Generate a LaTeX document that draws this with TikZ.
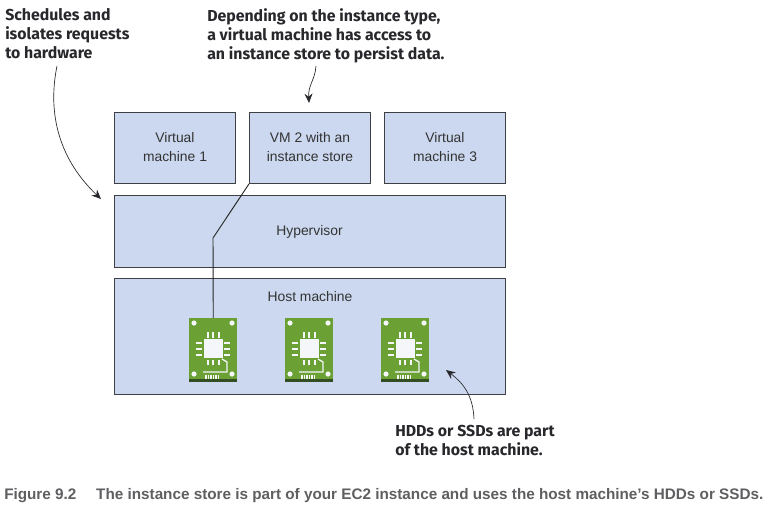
\documentclass[tikz,border=0pt]{standalone}
\usepackage{fontspec}
\setmainfont{Liberation Sans}
\newfontfamily\notefont{Fira Sans}
\usepackage{tikz}
\usetikzlibrary{positioning,calc,arrows.meta}
\definecolor{boxblue}{RGB}{203,216,239}
\definecolor{boxedge}{RGB}{62,64,68}
\definecolor{chipgreen}{RGB}{106,160,52}
\definecolor{chipdark}{RGB}{52,78,36}
\definecolor{chipwhite}{RGB}{244,246,250}
\definecolor{notecolor}{RGB}{40,40,44}
\definecolor{capcolor}{RGB}{95,95,98}
\tikzset{
  hostbox/.style={draw=boxedge,fill=boxblue,line width=0.9pt,anchor=north west,inner sep=0pt},
  boxtext/.style={font=\fontsize{10.4}{14.2}\selectfont,align=center,text=black!80},
  notetext/.style={font=\notefont\bfseries\fontsize{11.9}{14.25}\selectfont,align=left,anchor=north west,inner sep=0pt,text=notecolor},
  notearrow/.style={-{Stealth[length=7pt,width=6pt]},line width=0.5pt,notecolor},
  chipbody/.style={fill=chipgreen,draw=none,anchor=north west,minimum width=36pt,minimum height=48pt,inner sep=0pt},
  pin/.style={draw=chipwhite,line width=1pt},
}
% one circuit board, x and y are the centre of its top edge
\newcommand{\chipdetail}[1]{
  \begin{scope}[shift={(#1)}]
    \fill[chipdark] (-24,61) rectangle (24,64);
    \fill[chipwhite] (-9,21) rectangle (10,40);
    \foreach \sx in {-19,19} \foreach \sy in {5,56}
      \fill[chipwhite] ({\sx},{\sy}) circle [radius=2.6];
    \foreach \dx in {-5,0,6} {
      \draw[pin] (\dx,14) -- (\dx,20);
      \draw[pin] (\dx,42) -- (\dx,47);
    }
    \foreach \dy in {25,31,37} {
      \draw[pin] (-17,\dy) -- (-11,\dy);
      \draw[pin] (11,\dy) -- (17,\dy);
    }
    \foreach \dx in {-7,-4.5,-2,0.5,3,5.5}
      \draw[pin] (\dx,57) -- (\dx,61);
    \draw[pin] (-10,54) -- (14,54) -- (14,44) -- (9,41);
  \end{scope}
}
\begin{document}
\begin{tikzpicture}[x=0.75pt,y=-0.75pt]
  \useasboundingbox (0,0) rectangle (773,511);
  \fill[white] (0,0) rectangle (773,511);

  \node[hostbox,minimum width=90.5pt,minimum height=53pt] (vmone) at (114,112) {};
  \node[hostbox,minimum width=90.5pt,minimum height=53pt] (vmtwo) at (249,112) {};
  \node[hostbox,minimum width=90.5pt,minimum height=53pt] (vmthree) at (384,112) {};
  \node[hostbox,minimum width=293pt,minimum height=54pt] (hyper) at (114,195) {};
  \node[hostbox,minimum width=293pt,minimum height=87pt] (host) at (114,278) {};

  \node[boxtext] (vmonetext) at (175,147.5) {Virtual\\machine 1};
  \node[boxtext] (vmtwotext) at (310,147.5) {VM 2 with an\\instance store};
  \node[boxtext] (vmthreetext) at (445,147.5) {Virtual\\machine 3};
  \node[boxtext] (hypertext) at (309.5,232) {Hypervisor};
  \node[boxtext] (hosttext) at (310,297) {Host machine};

  \node[chipbody] (chipa) at (189,318) {};
  \node[chipbody] (chipb) at (285,318) {};
  \node[chipbody] (chipc) at (381,318) {};
  \chipdetail{213,318}
  \chipdetail{309,318}
  \chipdetail{405,318}

  \coordinate (bend) at (213,238);
  \draw[line width=0.7pt,black!85] (vmtwo.south west) -- (bend) -- (chipa.north);

  \node[notetext] (notehyper) at (5,8.5) {Schedules and\\isolates requests\\to hardware};
  \node[notetext] (notevm) at (207,8.5) {Depending on the instance type,\\a virtual machine has access to\\an instance store to persist data.};
  \node[notetext] (notehost) at (395,425) {HDDs or SSDs are part\\of the host machine.};

  \coordinate (hyperend) at (101,199);
  \coordinate (vmend) at (309,103);
  \coordinate (hostend) at (446,370);
  \draw[notearrow] (57,66) .. controls (47,115) and (60,160) .. (hyperend);
  \draw[notearrow] (316,66) .. controls (315,80) and (308,85) .. (vmend);
  \draw[notearrow] (474,419) .. controls (473,395) and (463,383) .. (hostend);

  \node[font=\bfseries\fontsize{11.45}{12}\selectfont,anchor=west,inner sep=0pt,text=capcolor] (caption) at (4,496) {Figure 9.2\hspace{1.3em}The instance store is part of your EC2 instance and uses the host machine’s HDDs or SSDs.};
\end{tikzpicture}
\end{document}
